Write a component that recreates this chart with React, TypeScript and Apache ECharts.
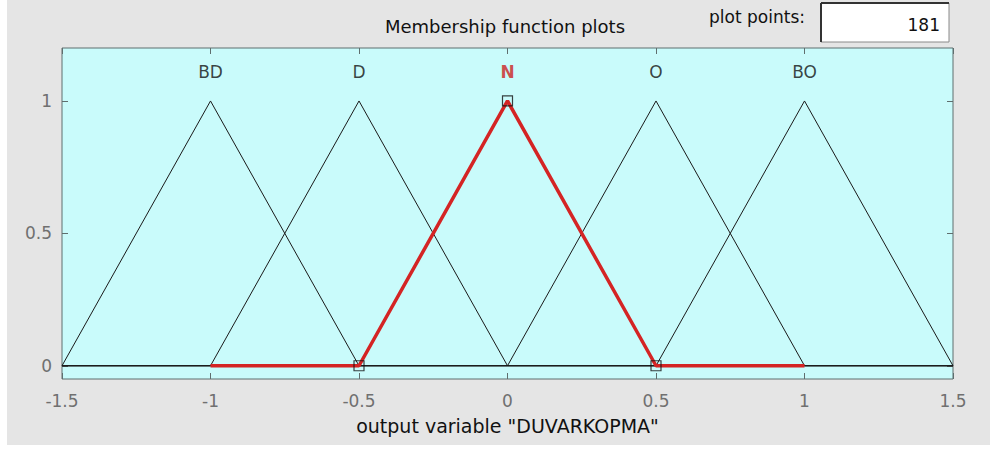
import React, { useEffect, useRef } from "react";
import * as echarts from "echarts";

// Triangular membership functions of the output variable: [a, b, c]
const mfNames = ["BD", "D", "N", "O", "BO"];
const mfParams: number[][] = [
  [-1.5, -1, -0.5],
  [-1, -0.5, 0],
  [-0.5, 0, 0.5],
  [0, 0.5, 1],
  [0.5, 1, 1.5],
];
const selectedMf = "N";
const rangeMin = -1.5;
const rangeMax = 1.5;
const selectedSpan = [-1, 1];
const yTicks = [0, 0.5, 1];
const labelLevel = 1.11;
const plotPoints = "181";
const axisTitle = 'output variable "DUVARKOPMA"';
const chartTitle = "Membership function plots";

const FONT = "'DejaVu Sans', Arial, sans-serif";
const FS = 17;
const FS_TITLE = 18;

export default function App() {
  const ref = useRef<HTMLDivElement>(null);

  useEffect(() => {
    if (!ref.current) return;
    const chart = echarts.init(ref.current, null, { renderer: "svg" });

    const series: any[] = [];
    mfNames.forEach((name, i) => {
      if (name === selectedMf) return;
      const [a, b, c] = mfParams[i];
      series.push({
        type: "line",
        name,
        data: [
          [rangeMin, 0],
          [a, 0],
          [b, 1],
          [c, 0],
          [rangeMax, 0],
        ],
        symbol: "none",
        lineStyle: { color: "#1a1a1a", width: 1 },
        z: 2,
      });
    });

    const si = mfNames.indexOf(selectedMf);
    const [sa, sb, sc] = mfParams[si];
    series.push({
      type: "line",
      name: selectedMf,
      data: [
        [selectedSpan[0], 0],
        [sa, 0],
        [sb, 1],
        [sc, 0],
        [selectedSpan[1], 0],
      ],
      symbol: "none",
      lineStyle: { color: "#d42424", width: 3.5 },
      z: 3,
    });
    // vertex handles of the selected function
    series.push({
      type: "scatter",
      data: [
        [sa, 0],
        [sb, 1],
        [sc, 0],
      ],
      symbol: "rect",
      symbolSize: 10,
      itemStyle: { color: "none", borderColor: "#111", borderWidth: 1.2 },
      z: 4,
    });
    // names above the peaks
    series.push({
      type: "scatter",
      data: mfNames.map((n, i) => ({
        value: [mfParams[i][1], labelLevel],
        label: {
          show: true,
          position: "inside",
          formatter: n,
          color: n === selectedMf ? "#cc2020" : "#111",
          fontWeight: n === selectedMf ? "bold" : "normal",
          fontFamily: FONT,
          fontSize: FS,
        },
      })),
      symbolSize: 0,
      silent: true,
      z: 5,
    });

    const tickStyle = { color: "#5f6e6e" };

    chart.setOption({
      animation: false,
      backgroundColor: "transparent",
      grid: { left: 62, right: 37, top: 48, bottom: 72, show: true, backgroundColor: "#c9fbfb", borderColor: "#5f6e6e", borderWidth: 1 },
      xAxis: [
        {
          type: "value",
          min: rangeMin,
          max: rangeMax,
          interval: 0.5,
          position: "bottom",
          axisLine: { show: false, onZero: false },
          splitLine: { show: false },
          axisTick: { show: true, inside: true, length: 6, lineStyle: tickStyle },
          axisLabel: { color: "#707070", fontFamily: FONT, fontSize: FS, margin: 13, formatter: (v: number) => String(v) },
          name: axisTitle,
          nameLocation: "middle",
          nameGap: 37,
          nameTextStyle: { color: "#111", fontFamily: FONT, fontSize: 19 },
        },
        {
          type: "value",
          min: rangeMin,
          max: rangeMax,
          interval: 0.5,
          position: "top",
          axisLine: { show: false, onZero: false },
          splitLine: { show: false },
          axisTick: { show: true, inside: true, length: 6, lineStyle: tickStyle },
          axisLabel: { show: false },
        },
      ],
      yAxis: [
        {
          type: "value",
          min: -0.05,
          max: 1.2,
          position: "left",
          axisLine: { show: false, onZero: false },
          splitLine: { show: false },
          axisTick: { show: true, inside: true, length: 6, customValues: yTicks, lineStyle: tickStyle },
          axisLabel: { color: "#707070", fontFamily: FONT, fontSize: FS, margin: 10, customValues: yTicks, formatter: (v: number) => String(v) },
        },
        {
          type: "value",
          min: -0.05,
          max: 1.2,
          position: "right",
          axisLine: { show: false, onZero: false },
          splitLine: { show: false },
          axisTick: { show: true, inside: true, length: 6, customValues: yTicks, lineStyle: tickStyle },
          axisLabel: { show: false },
        },
      ],
      graphic: [
        { type: "rect", shape: { x: 7, y: 0, width: 983, height: 445 }, style: { fill: "#e5e5e5" }, z: -10, silent: true },
        {
          type: "text",
          x: 505,
          y: 26,
          style: { text: chartTitle, fill: "#111", font: `${FS_TITLE}px ${FONT}`, textAlign: "center", textVerticalAlign: "middle" },
        },
        {
          type: "text",
          x: 805,
          y: 17,
          style: { text: "plot points:", fill: "#111", font: `${FS}px ${FONT}`, textAlign: "right", textVerticalAlign: "middle" },
        },
        { type: "rect", shape: { x: 821, y: 3, width: 128, height: 39 }, style: { fill: "#ffffff", stroke: "#8a8a8a", lineWidth: 1 } },
        { type: "line", shape: { x1: 821, y1: 3, x2: 821, y2: 42 }, style: { stroke: "#333", lineWidth: 2 } },
        { type: "line", shape: { x1: 821, y1: 3, x2: 949, y2: 3 }, style: { stroke: "#333", lineWidth: 2 } },
        {
          type: "text",
          x: 940,
          y: 25,
          style: { text: plotPoints, fill: "#111", font: `${FS}px ${FONT}`, textAlign: "right", textVerticalAlign: "middle" },
        },
      ],
      series,
    });

    return () => chart.dispose();
  }, []);

  return (
    <div
      ref={ref}
      style={{ position: "absolute", left: 0, top: 0, width: 990, height: 451, background: "#ffffff" }}
    />
  );
}
